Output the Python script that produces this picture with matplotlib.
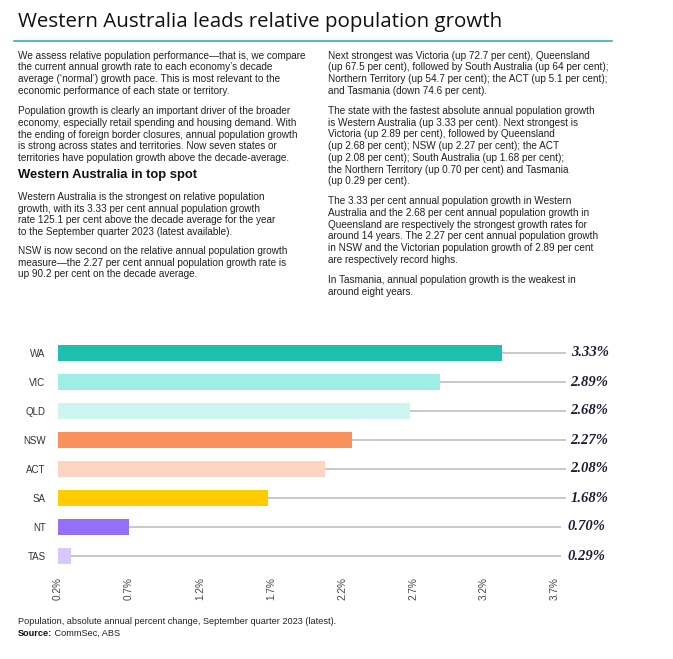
import matplotlib
matplotlib.use("Agg")
import matplotlib.pyplot as plt
from matplotlib.lines import Line2D

# ---- data ----
states = ["WA", "VIC", "QLD", "NSW", "ACT", "SA", "NT", "TAS"]
growth = [3.33, 2.89, 2.68, 2.27, 2.08, 1.68, 0.70, 0.29]
value_labels = ["3.33%", "2.89%", "2.68%", "2.27%", "2.08%", "1.68%", "0.70%", "0.29%"]
tick_values = [0.2, 0.7, 1.2, 1.7, 2.2, 2.7, 3.2, 3.7]
tick_labels = ["0.2%", "0.7%", "1.2%", "1.7%", "2.2%", "2.7%", "3.2%", "3.7%"]
bar_colors = ["#1fbfb0", "#9eeee6", "#cdf5f1", "#fa915c", "#fcd4bf", "#ffcc00", "#9370fa", "#d6c8fa"]

title = "Western Australia leads relative population growth"
left_col = [
    [
        "We assess relative population performance\u2014that is, we compare",
        "the current annual growth rate to each economy\u2019s decade",
        "average (\u2018normal\u2019) growth pace. This is most relevant to the",
        "economic performance of each state or territory.",
    ],
    [
        "Population growth is clearly an important driver of the broader",
        "economy, especially retail spending and housing demand. With",
        "the ending of foreign border closures, annual population growth",
        "is strong across states and territories. Now seven states or",
        "territories have population growth above the decade-average.",
    ],
]
heading = "Western Australia in top spot"
left_col2 = [
    [
        "Western Australia is the strongest on relative population",
        "growth, with its 3.33 per cent annual population growth",
        "rate 125.1 per cent above the decade average for the year",
        "to the September quarter 2023 (latest available).",
    ],
    [
        "NSW is now second on the relative annual population growth",
        "measure\u2014the 2.27 per cent annual population growth rate is",
        "up 90.2 per cent on the decade average.",
    ],
]
right_col = [
    [
        "Next strongest was Victoria (up 72.7 per cent), Queensland",
        "(up 67.5 per cent), followed by South Australia (up 64 per cent);",
        "Northern Territory (up 54.7 per cent); the ACT (up 5.1 per cent);",
        "and Tasmania (down 74.6 per cent).",
    ],
    [
        "The state with the fastest absolute annual population growth",
        "is Western Australia (up 3.33 per cent). Next strongest is",
        "Victoria (up 2.89 per cent), followed by Queensland",
        "(up 2.68 per cent); NSW (up 2.27 per cent); the ACT",
        "(up 2.08 per cent); South Australia (up 1.68 per cent);",
        "the Northern Territory (up 0.70 per cent) and Tasmania",
        "(up 0.29 per cent).",
    ],
    [
        "The 3.33 per cent annual population growth in Western",
        "Australia and the 2.68 per cent annual population growth in",
        "Queensland are respectively the strongest growth rates for",
        "around 14 years. The 2.27 per cent annual population growth",
        "in NSW and the Victorian population growth of 2.89 per cent",
        "are respectively record highs.",
    ],
    [
        "In Tasmania, annual population growth is the weakest in",
        "around eight years.",
    ],
]
footnote = "Population, absolute annual percent change, September quarter 2023 (latest)."
source_label = "Source:"
source_text = " CommSec, ABS"

# ---- figure ----
W, H = 673, 659
fig = plt.figure(figsize=(W / 100, H / 100), dpi=100)
fig.patch.set_facecolor("white")

def fx(x):
    return x / W

def fy(y):
    return 1 - y / H

SANS = ["Liberation Sans", "DejaVu Sans"]
BODY_FS = 7.2
BODY_COLOR = "#222222"
LINE_H = 11.8

tt = fig.text(fx(18), fy(22), title, fontsize=15.5, family=["Open Sans", "DejaVu Sans"],
              fontweight="normal", color="#111111", va="center", ha="left")
fig.canvas.draw()
tw = tt.get_window_extent().width
tt.set_fontsize(15.5 * 484 / tw)

fig.add_artist(Line2D([fx(14), fx(612)], [fy(40.5), fy(40.5)], color="#3bb3a0", lw=1.2,
                      transform=fig.transFigure))

def draw_paras(x, starts, paras):
    for y0, para in zip(starts, paras):
        for i, line in enumerate(para):
            fig.text(fx(x), fy(y0 + i * LINE_H), line, fontsize=BODY_FS, family=SANS,
                     color=BODY_COLOR, va="center", ha="left")

draw_paras(18, [55.7, 111], left_col)
fig.text(fx(18), fy(175), heading, fontsize=9.4, family=SANS, fontweight="bold",
         color="#111111", va="center", ha="left")
draw_paras(18, [196.7, 250.7], left_col2)
draw_paras(328, [55.7, 110.7, 201, 279.7], right_col)

# ---- chart ----
ax_left, ax_right = 58, 555
ax_top, ax_bottom = 338.5, 570.5
ax = fig.add_axes([fx(ax_left), fy(ax_bottom), (ax_right - ax_left) / W, (ax_bottom - ax_top) / H])
base = tick_values[0]
ypos = list(range(len(states)))
widths = [g - base for g in growth]
ax.barh(ypos, widths, left=base, height=0.56, color=bar_colors, zorder=3)
line_end = [3.78, 3.78, 3.78, 3.78, 3.78, 3.78, 3.745, 3.745]
label_x = [3.81, 3.81, 3.81, 3.81, 3.81, 3.81, 3.785, 3.785]
for y, g, le, lx, lab in zip(ypos, growth, line_end, label_x, value_labels):
    ax.plot([g, le], [y, y], color="#c8c8c8", lw=1.4, zorder=2, clip_on=False,
            solid_capstyle="butt")
    ax.text(lx, y, lab, fontsize=10.5, family=["Liberation Serif", "DejaVu Serif"],
            fontweight="bold", fontstyle="italic", color="#1c1c36", va="center", ha="left",
            clip_on=False)

ax.set_xlim(tick_values[0], tick_values[-1])
ax.set_ylim(len(states) - 0.5, -0.5)
ax.set_yticks(ypos)
ax.set_yticklabels(states, fontsize=7.0, family=SANS, color="#333333")
ax.set_xticks(tick_values)
ax.set_xticklabels(tick_labels, rotation=90, fontsize=7.2,
                   family=["Liberation Sans Narrow", "Liberation Sans", "DejaVu Sans"],
                   color="#444444")
ax.tick_params(axis="y", length=0, pad=9)
ax.tick_params(axis="x", length=0, pad=5)
for s in ax.spines.values():
    s.set_visible(False)
ax.set_facecolor("none")

# ---- footnote ----
NARROW = ["Liberation Sans Narrow", "Liberation Sans", "DejaVu Sans"]
fig.text(fx(18), fy(622), footnote, fontsize=6.6, family=NARROW, color="#222222",
         va="center", ha="left")
t = fig.text(fx(18), fy(633), source_label, fontsize=6.6, family=NARROW, fontweight="bold",
             color="#111111", va="center", ha="left")
fig.canvas.draw()
bb = t.get_window_extent()
fig.text(bb.x1 / W, fy(633), source_text, fontsize=6.6, family=NARROW, color="#222222",
         va="center", ha="left")

fig.savefig("out.png", dpi=100, facecolor="white")
